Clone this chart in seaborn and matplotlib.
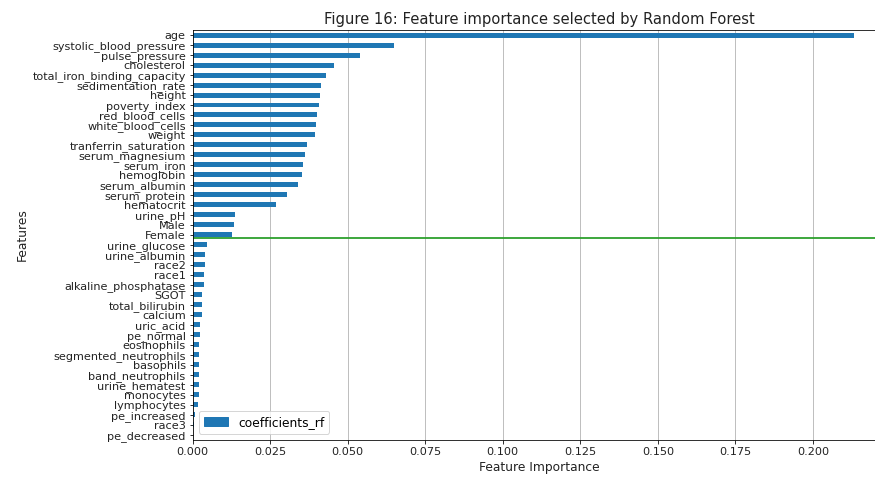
import matplotlib
matplotlib.use("Agg")
import matplotlib.pyplot as plt
from matplotlib.patches import Patch
import seaborn as sns
import pandas as pd

features = ['age', 'systolic_blood_pressure', 'pulse_pressure', 'cholesterol',
            'total_iron_binding_capacity', 'sedimentation_rate', 'height', 'poverty_index',
            'red_blood_cells', 'white_blood_cells', 'weight', 'tranferrin_saturation',
            'serum_magnesium', 'serum_iron', 'hemoglobin', 'serum_albumin', 'serum_protein',
            'hematocrit', 'urine_pH', 'Male', 'Female', 'urine_glucose', 'urine_albumin',
            'race2', 'race1', 'alkaline_phosphatase', 'SGOT', 'total_bilirubin', 'calcium',
            'uric_acid', 'pe_normal', 'eosinophils', 'segmented_neutrophils', 'basophils',
            'band_neutrophils', 'urine_hematest', 'monocytes', 'lymphocytes', 'pe_increased',
            'race3', 'pe_decreased']
coefficients_rf = [0.2131, 0.0649, 0.0541, 0.0457, 0.0429, 0.0414, 0.0412, 0.0408,
                   0.0401, 0.0397, 0.0396, 0.0369, 0.0361, 0.0357, 0.0353, 0.0341,
                   0.0304, 0.0269, 0.0135, 0.0132, 0.0128, 0.0047, 0.0040, 0.0040,
                   0.0036, 0.0035, 0.0031, 0.0031, 0.0031, 0.0024, 0.0024, 0.0020,
                   0.0019, 0.0019, 0.0019, 0.0019, 0.0019, 0.0016, 0.0007, 0.0004,
                   0.0001]
threshold_pos = 20.3  # line drawn just under 'Female'

df = pd.DataFrame({'feature': features, 'coefficients_rf': coefficients_rf})

dpi = 72
fig = plt.figure(figsize=(875 / dpi, 477 / dpi), dpi=dpi)
# axes run past the right edge, the original picture was cropped there
ax = fig.add_axes([0.2202, 0.0776, 0.793, 0.8595])

sns.barplot(data=df, x='coefficients_rf', y='feature', orient='h',
            color='#1f77b4', width=0.5, saturation=1, ax=ax)
ax.set_xlim(0, max(coefficients_rf) * 1.05)
ax.set_ylim(len(features) - 0.5, -0.5)

ax.axhline(threshold_pos, color='tab:green', lw=1.8)
ax.xaxis.grid(True, color='#b0b0b0', lw=0.8)
ax.set_axisbelow(True)

ax.set_title('Figure 16: Feature importance selected by Random Forest',
             fontsize=14.8, color='#222222')
ax.set_xlabel('Feature Importance', fontsize=12.3, color='#222222')
ax.set_ylabel('Features', fontsize=12.3, color='#222222')
ax.tick_params(labelsize=11.2, labelcolor='#222222')

ax.legend(handles=[Patch(color='#1f77b4')], labels=['coefficients_rf'],
          loc='lower left', fontsize=12.3)

fig.savefig('out.png', dpi=dpi)
